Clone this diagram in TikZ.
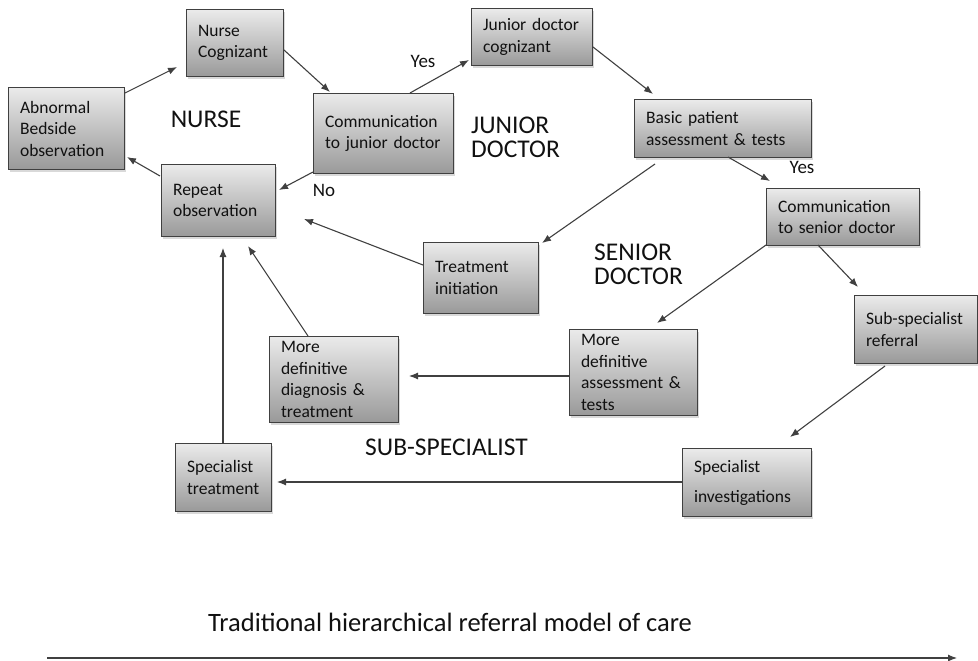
\documentclass[tikz,border=0pt]{standalone}
\usepackage{fontspec}
\setmainfont{Carlito}
\usetikzlibrary{calc,arrows.meta,shadows}
\definecolor{edge}{HTML}{404040}
\definecolor{ink}{HTML}{111111}
\tikzset{
  box/.style={draw=edge, line width=1.1pt, top color=black!8, bottom color=black!40,
    drop shadow={opacity=0.3, shadow xshift=1.5pt, shadow yshift=-2pt},
    anchor=north west, inner xsep=11.5pt, inner ysep=0pt, align=left, text=ink,
    font=\fontsize{17.5}{21.5}\selectfont},
  arr/.style={draw=edge, line width=1.1pt, -{Latex[length=9pt,width=7pt]}},
  lbl/.style={text=ink, inner sep=0pt, font=\fontsize{25.5}{24}\selectfont, align=left},
  yn/.style={text=ink, inner sep=0pt, font=\fontsize{19}{22}\selectfont}
}
\newcommand{\bx}[6]{\node[box, minimum width=#4pt, minimum height=#5pt, text width=#4pt-23pt] (#1) at (#2,#3) {#6};}
\begin{document}
\begin{tikzpicture}[x=1pt,y=-1pt]
\useasboundingbox (0,0) rectangle (978,661);
\bx{abn}{8}{87}{116}{82}{Abnormal\\Bedside\\observation}
\bx{nurse}{186}{9}{97}{67}{Nurse\\Cognizant}
\bx{cjd}{313}{93}{140}{80}{Communication\\to junior doctor}
\bx{jdc}{471}{8}{121}{57}{Junior doctor\\cognizant}
\bx{basic}{634}{99}{177}{58}{Basic patient\\assessment \& tests}
\bx{csd}{766}{188}{153}{57}{Communication\\to senior doctor}
\bx{ssr}{854}{295}{123}{68}{Sub-specialist\\referral}
\bx{rep}{161}{164}{114}{72}{Repeat\\observation}
\bx{ti}{423}{242}{115}{71}{Treatment\\initiation}
\bx{mdd}{269}{336}{129}{86}{More\\definitive\\diagnosis \&\\treatment}
\bx{mda}{569}{329}{128}{86}{More\\definitive\\assessment \&\\tests}
\bx{st}{175}{443}{96}{68}{Specialist\\treatment}
\node[box, minimum width=129pt, minimum height=68pt, text width=106pt,
  font=\fontsize{17.5}{30}\selectfont] (si) at (682,448) {Specialist\\investigations};

\node[lbl] (lnurse) at (206,119) {NURSE};
\node[lbl, anchor=west] (ljun) at (471,137) {JUNIOR\\DOCTOR};
\node[lbl, anchor=west] (lsen) at (594,264) {SENIOR\\DOCTOR};
\node[lbl, anchor=west] (lsub) at (365,447) {SUB-SPECIALIST};
\node[yn] (yes1) at (423,61) {Yes};
\node[yn] (no1) at (324,190) {No};
\node[yn] (yes2) at (802,167) {Yes};
\node[text=ink, inner sep=0pt, anchor=west, font=\fontsize{26.5}{30}\selectfont] (title) at (208,622) {Traditional hierarchical referral model of care};

\draw[arr] ($(abn.north west)+(117,6)$) -- ($(nurse.north west)+(-9,58)$);
\draw[arr] ($(nurse.north west)+(98,41)$) -- ($(cjd.north west)+(17,-1)$);
\draw[arr] ($(cjd.north west)+(97,0)$) -- ($(jdc.north west)+(-2,52)$);
\draw[arr] ($(jdc.north west)+(122,39)$) -- ($(basic.north west)+(19,-5)$);
\draw[arr] ($(cjd.north west)+(0,79)$) -- ($(rep.north west)+(118,26)$);
\draw[arr] ($(rep.north west)+(-1,12)$) -- ($(abn.north west)+(119,70)$);
\draw[arr] ($(basic.north west)+(94,58)$) -- ($(csd.north west)+(4,-7)$);
\draw[arr] ($(basic.north west)+(21,65)$) -- ($(ti.north west)+(119,1)$);
\draw[arr] ($(ti.north west)+(0,23)$) -- ($(rep.north west)+(143,55)$);
\draw[arr] ($(csd.north west)+(0,57)$) -- ($(mda.north west)+(88,-6)$);
\draw[arr] ($(csd.north west)+(52,57)$) -- ($(ssr.north west)+(4,-8)$);
\draw[arr] ($(mda.north west)+(0,47)$) -- ($(mdd.north west)+(140,40)$);
\draw[arr] ($(mdd.north west)+(39,0)$) -- ($(rep.north west)+(87,82)$);
\draw[arr] ($(st.north west)+(48,0)$) -- ($(rep.north west)+(62,84)$);
\draw[arr] ($(ssr.north west)+(31,71)$) -- ($(si.north west)+(108,-11)$);
\draw[arr] ($(si.north west)+(0,34)$) -- ($(st.north west)+(102,39)$);
\coordinate (axs) at (47,658);
\coordinate (axe) at (957,658);
\draw[arr] (axs) -- (axe);
\end{tikzpicture}
\end{document}
